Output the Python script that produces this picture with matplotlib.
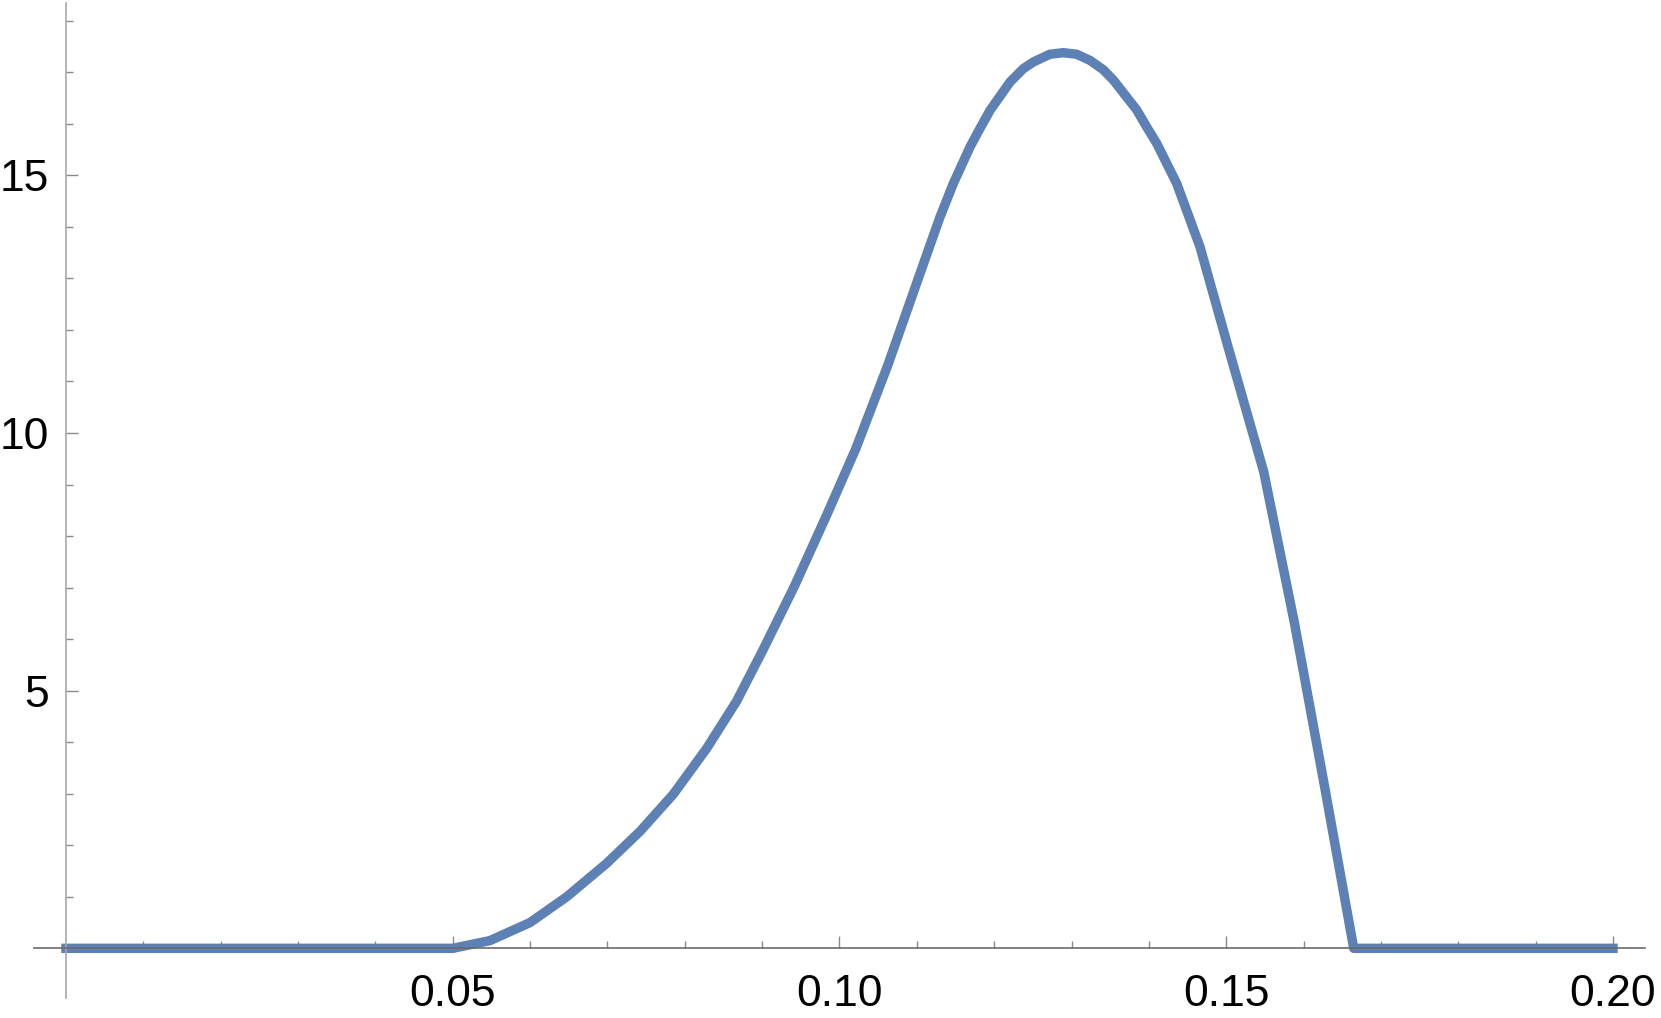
import numpy as np
import matplotlib
matplotlib.use("Agg")
from matplotlib import pyplot as plt
from matplotlib.ticker import FixedLocator

# curve (flat at zero outside the bump)
xs = [0.0, 0.05, 0.05481, 0.05999, 0.06473, 0.06990, 0.07421, 0.07851, 0.08283,
      0.08671, 0.09007, 0.09418, 0.09829, 0.10212, 0.10623, 0.10993, 0.11148,
      0.11299, 0.11471, 0.11687, 0.11816, 0.11946, 0.12204, 0.12376, 0.12506,
      0.12721, 0.12893, 0.13066, 0.13239, 0.13410, 0.13540, 0.13842, 0.13971,
      0.14101, 0.14360, 0.14661, 0.15033, 0.15484, 0.15882, 0.16265, 0.16648,
      0.20]
ys = [0.0, 0.0, 0.15, 0.50, 1.00, 1.65, 2.27, 2.99, 3.88,
      4.80, 5.78, 7.03, 8.39, 9.70, 11.31, 12.89, 13.55,
      14.19, 14.84, 15.55, 15.91, 16.26, 16.81, 17.07, 17.20,
      17.35, 17.38, 17.35, 17.23, 17.05, 16.85, 16.27, 15.94,
      15.62, 14.84, 13.61, 11.62, 9.25, 6.31, 3.19, 0.0,
      0.0]

xticks = [0.05, 0.10, 0.15, 0.20]
xticklabels = ["0.05", "0.10", "0.15", "0.20"]
xminor = [i / 100 for i in range(1, 20) if i % 5]
yticks = [5, 10, 15]
yticklabels = ["5", "10", "15"]
yminor = [i for i in range(1, 19) if i % 5]

plt.rcParams['font.family'] = ['Liberation Sans', 'DejaVu Sans']

W, H = 1661, 1018
fig = plt.figure(figsize=(W / 100, H / 100), dpi=100)
ax = fig.add_axes([34 / W, 1 - 997.7 / H, (1645 - 34) / W, (997.7 - 2.7) / H])

ax.plot(xs, ys, color="#5E81B5", lw=6.8, solid_capstyle="projecting",
        solid_joinstyle="round", zorder=2)

ax.set_xlim(-0.004137, 0.204137)
ax.set_ylim(-0.958, 18.35)

for s in ["top", "right"]:
    ax.spines[s].set_visible(False)
ax.spines["left"].set_position(("data", 0))
ax.spines["bottom"].set_position(("data", 0))
ax.spines["left"].set_color("#a8a8a8")
ax.spines["bottom"].set_color("#6b6b6b")
ax.spines["left"].set_linewidth(1.2)
ax.spines["bottom"].set_linewidth(1.2)

ax.xaxis.set_major_locator(FixedLocator(xticks))
ax.set_xticklabels(xticklabels)
ax.xaxis.set_minor_locator(FixedLocator(xminor))
ax.yaxis.set_major_locator(FixedLocator(yticks))
ax.set_yticklabels(yticklabels)
ax.yaxis.set_minor_locator(FixedLocator(yminor))

ax.tick_params(axis="x", which="major", direction="in", length=8.6, width=1.0,
               color="#8a8a8a", labelsize=32, pad=18.5)
ax.tick_params(axis="x", which="minor", direction="in", length=5, width=1.0,
               color="#8a8a8a")
ax.tick_params(axis="y", which="major", direction="in", length=8.6, width=1.0,
               color="#8a8a8a", labelsize=32, pad=12)
ax.tick_params(axis="y", which="minor", direction="in", length=5, width=1.0,
               color="#8a8a8a")

ax.patch.set_alpha(0)
fig.savefig("out.png", dpi=100)
